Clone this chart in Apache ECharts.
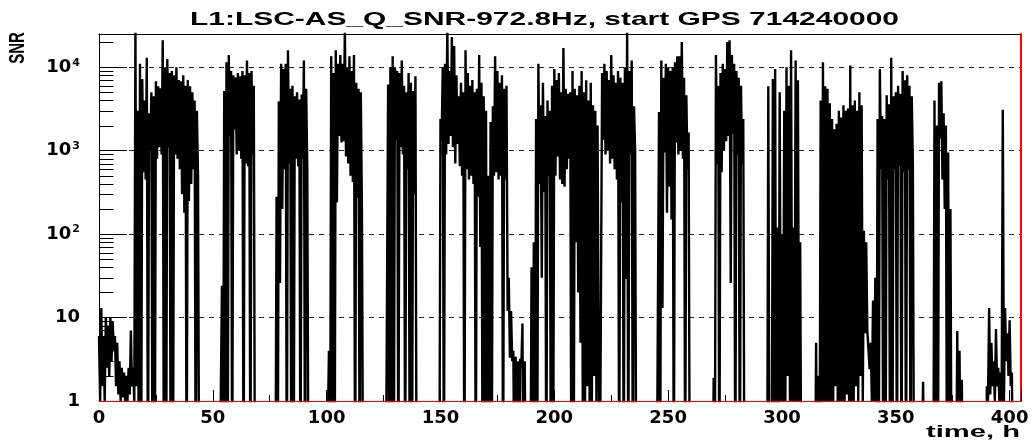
<!DOCTYPE html>
<html>
<head>
<meta charset="utf-8">
<script src="https://cdn.jsdelivr.net/npm/echarts@6/dist/echarts.min.js"></script>
<style>
html,body{margin:0;padding:0;background:#fff;}
#chart{width:1033px;height:440px;}
</style>
</head>
<body>
<div id="chart"></div>
<script>
// ---- texts ----
const titleText = 'L1:LSC-AS_Q_SNR-972.8Hz, start GPS 714240000';
const yName = 'SNR';
const xName = 'time, h';

// ---- axis ticks ----
const xTickLabels = [0, 50, 100, 150, 200, 250, 300, 350, 400];
const yTickLabels = [1, 10, 100, 1000, 10000];
const yMinorTicks = [2,3,4,5,6,7,8,9, 20,30,40,50,60,70,80,90,
  200,300,400,500,600,700,800,900, 2000,3000,4000,5000,6000,7000,8000,9000, 20000];

// ---- data: one entry per hour; high sample at h, low sample at h+0.5 (0 = no signal) ----
const snrHigh = [
  6,13,6,10,8,10,9,6,5,3,
  2.5,2.2,2,2.5,7,2.5,30000,3000,11000,7200,
  4000,13000,2800,5000,4500,6800,5900,5600,21000,10000,
  12500,8500,9000,8000,10000,7000,6800,8000,6000,7000,
  5900,5000,4000,3000,0,0,0,0,0,0,
  0,0,0,0,24,5200,11500,14000,9000,8000,
  7500,8500,7800,9000,8000,12000,8500,9000,6000,0,
  0,0,0,0,0,0,0,0,280,3900,
  11000,9500,11000,16000,5500,6000,4500,5000,4100,4700,
  12000,5500,0,0,0,0,0,0,0,0,
  0,4,13500,8500,16000,11000,14000,11000,30000,10000,
  13500,9000,14000,6500,5500,5000,0,0,0,0,
  0,0,0,0,0,0,0,6200,10000,13500,
  10000,9000,8500,12000,6000,5000,8500,6500,5200,7800,
  0,0,0,0,0,0,0,0,0,0,
  2400,10000,11000,30000,9000,23000,18000,8000,4500,6500,
  5000,16000,8500,6000,7000,5000,5500,14000,6500,4500,
  3000,500,2200,3400,13500,9000,6500,8000,5500,6000,
  30,12,4,3.4,3,3.2,8.5,3,0,0,
  40,80,2400,11000,3500,6500,2600,4000,3000,6000,
  9500,7000,8500,5000,17000,5500,4800,5000,9000,5500,
  4600,6000,9000,5000,7000,4000,6500,3500,3000,2000,
  0,8500,11000,9000,7000,14000,8000,6500,9000,7500,
  6500,10000,30000,9000,12000,3400,0,0,0,0,
  0,0,0,0,0,0,2900,12000,7500,11000,
  10000,9000,10000,11500,13500,13500,20000,7500,4600,1650,
  0,0,0,0,0,0,0,0,0,0,
  1.9,14000,6000,8500,11000,9500,20000,21000,14000,11000,
  9000,7500,6000,2400,0,0,0,0,0,0,
  0,0,0,0,5900,0,7200,9500,120,5000,
  100,3000,10000,6000,16000,120,12000,7000,80,0,
  0,0,0,0,0,5,2,4000,11500,5900,
  5500,3700,2400,1800,2100,3000,2500,3500,3000,3200,
  10500,3500,4000,3000,5000,3500,110,80,7.3,5,
  16,30,2400,9500,2600,2400,4600,3600,13000,4500,
  5000,6000,4800,9000,7000,8000,6000,4500,0,0,
  0,0,1.7,0,0,0,0,4000,2000,6500,
  6800,2800,2000,950,200,0,0,6.9,4,1.8,
  0,0,0,0,0,0,0,0,0,0,
  1.5,13,5,3,7.3,2.5,2.2,3100,13,6.5,
  9.3,2.2,0,0,0,0
];
const snrLow = [
  1,1.5,1,2.5,2,3,4,1.5,1.2,1,
  1.1,1,1,1.2,1.5,1,1.5,0,0,550,
  450,0,1000,0,0,800,1100,900,0,0,
  1100,0,0,900,800,600,300,180,0,250,
  400,600,0,500,0,0,0,0,0,0,
  0,0,0,0,0,0,0,1500,0,1800,
  900,1000,800,0,700,650,0,900,0,0,
  0,0,0,0,0,0,0,0,0,26,
  200,600,0,700,0,0,800,650,0,800,
  0,600,0,0,0,0,0,0,0,0,
  0,0,0,0,240,1500,1250,1300,850,700,
  500,420,0,270,0,180,0,0,0,0,
  0,0,0,0,0,0,0,0,0,0,
  1350,0,1100,900,0,600,0,0,300,0,
  0,0,0,0,0,0,0,0,0,0,
  1350,0,900,1200,1500,1100,700,1200,650,500,
  0,600,450,500,400,0,280,70,0,0,
  0,0,0,500,550,450,500,0,450,12,
  3.3,3,0,1,0,2.5,0,0,0,0,
  0,0,0,400,30,320,0,500,0,0,
  500,850,450,400,370,600,800,0,0,80,
  20,5,1,1,1.5,1,1,2,1,3,
  0,1350,900,1000,700,800,600,450,0,240,
  0,29,0,900,0,1000,0,0,0,0,
  0,0,0,0,0,0,0,13,950,180,
  370,150,0,1250,900,1000,800,0,600,0,
  0,0,0,0,0,0,0,0,0,0,
  0,700,0,550,1000,1300,1500,26,1600,0,
  900,0,700,0,0,0,0,0,0,0,
  0,0,0,0,0,0,0,0,0,1,
  1,1,2,1,1,1,1,1,0,0,
  0,0,0,0,0,0,0,0,1,1,
  1,1,1,1.5,1,1,1,1,1.2,1,
  1,1,1.5,1,2,1,6.5,7,2.4,1,
  1,0,0,600,0,0,450,0,0,600,
  0,650,0,550,0,600,0,700,0,0,
  0,0,0,0,0,0,0,0,0,1400,
  450,200,0,0,0,0,0,0,0,0,
  0,0,0,0,0,0,0,0,0,0,
  1,1.2,1.5,1,1.5,1,1,1,3,2,
  1.5,0,0,0,0,0
];

const X_MAX = 405;
const Y_MIN = 1, Y_MAX = 25000;
const NO_SIGNAL = 0.05; // drawn below the axis minimum (clipped)

const points = [];
for (let h = 0; h < snrHigh.length; h++) {
  points.push([h, snrHigh[h] > 0 ? snrHigh[h] : NO_SIGNAL]);
  points.push([h + 0.5, snrLow[h] > 0 ? snrLow[h] : NO_SIGNAL]);
}

const LABEL_FONT = '"DejaVu Sans", sans-serif';

function measure(text, font) {
  const c = document.createElement('canvas').getContext('2d');
  c.font = font;
  return c.measureText(text).width;
}
const titleFont = 'bold 18.5px "Liberation Sans"';
const titleScale = 709 / measure(titleText, titleFont);
const xNameFont = 'bold 16px "Liberation Sans"';
const xNameScale = 94 / measure(xName, xNameFont);

const chart = echarts.init(document.getElementById('chart'), null, {renderer: 'canvas'});

function yFmt(v) {
  const e = Math.round(Math.log10(v));
  if (Math.abs(Math.log10(v) - e) > 1e-6) return '';
  if (yTickLabels.indexOf(Math.pow(10, e)) < 0) return '';
  if (e === 0) return '{n|1}';
  if (e === 1) return '{n|10}';
  return '{n|10}{s|' + e + '}';
}

const option = {
  backgroundColor: '#fff',
  animation: false,
  grid: {left: 99, right: 12, top: 34, bottom: 39, containLabel: false, outerBoundsMode: 'none'},
  graphic: [
    {type: 'text', x: 544.5, y: 20, scaleX: titleScale, silent: true,
     style: {text: titleText, x: 0, y: 0, fill: '#000', font: titleFont,
       align: 'center', verticalAlign: 'middle', textAlign: 'center', textVerticalAlign: 'middle'}},
    {type: 'text', x: 18, y: 48, rotation: Math.PI / 2, scaleY: 1.5, silent: true,
     style: {text: yName, x: 0, y: 0, fill: '#000', font: 'bold 15px "Liberation Sans"',
       align: 'center', verticalAlign: 'middle', textAlign: 'center', textVerticalAlign: 'middle'}},
    {type: 'text', x: 1020, y: 433, scaleX: xNameScale, silent: true,
     style: {text: xName, x: 0, y: 0, fill: '#000', font: xNameFont,
       align: 'right', verticalAlign: 'middle', textAlign: 'right', textVerticalAlign: 'middle'}}
  ],
  xAxis: [
    {type: 'value', min: 0, max: X_MAX, interval: 50, position: 'bottom', z: 10,
     axisLine: {show: true, onZero: false, lineStyle: {color: '#ff0000', width: 1}},
     axisTick: {show: true, inside: true, length: 11, lineStyle: {color: '#000'}},
     minorTick: {show: true, splitNumber: 2, length: 6, lineStyle: {color: '#000'}},
     splitLine: {show: false},
     axisLabel: {
       formatter: v => (xTickLabels.indexOf(v) >= 0 ? String(v) : ''),
       fontFamily: LABEL_FONT, fontWeight: 'bold', fontSize: 18, color: '#000', margin: 8,
       hideOverlap: false
     }
    },
    {type: 'value', min: 0, max: X_MAX, position: 'top',
     axisLine: {show: true, onZero: false, lineStyle: {color: '#000', width: 1}},
     axisTick: {show: false}, axisLabel: {show: false}, splitLine: {show: false}}
  ],
  yAxis: [
    {type: 'log', logBase: 10, min: Y_MIN, max: Y_MAX, position: 'left',
     axisLine: {show: true, onZero: false, lineStyle: {color: '#000', width: 1}},
     axisTick: {show: true, inside: true, length: 28, lineStyle: {color: '#000'}},
     minorTick: {show: false},
     splitLine: {show: true, showMinLine: false, showMaxLine: false,
       lineStyle: {color: '#222', width: 1, type: [5, 5]}},
     axisLabel: {
       formatter: yFmt, margin: 19, color: '#000',
       rich: {
         n: {fontFamily: LABEL_FONT, fontWeight: 'bold', fontSize: 18, color: '#000'},
         s: {fontFamily: LABEL_FONT, fontWeight: 'bold', fontSize: 11, color: '#000', padding: [0, 0, 9, 1]}
       }
     }
    },
    {type: 'log', logBase: 10, min: Y_MIN, max: Y_MAX, position: 'right', z: 10,
     axisLine: {show: true, onZero: false, lineStyle: {color: '#ff0000', width: 2}},
     axisTick: {show: false}, axisLabel: {show: false}, splitLine: {show: false}, minorTick: {show: false}}
  ],
  series: [
    {type: 'custom', name: 'minor ticks', xAxisIndex: 0, yAxisIndex: 0, silent: true, z: 1,
     data: yMinorTicks.map(v => [0, v]),
     encode: {x: 0, y: 1},
     renderItem: function (params, api) {
       const p = api.coord([0, api.value(1)]);
       const y = Math.round(p[1]) + 0.5;
       const x = Math.round(p[0]) + 0.5;
       return {type: 'line', shape: {x1: x, y1: y, x2: x + 14, y2: y},
               style: {stroke: '#000', lineWidth: 1}};
     }
    },
    {type: 'line', name: 'SNR', data: points, xAxisIndex: 0, yAxisIndex: 0,
     symbol: 'none', showSymbol: false, clip: true, silent: true,
     lineStyle: {color: '#000', width: 2.4, join: 'bevel'}, z: 3}
  ]
};
chart.setOption(option);
</script>
</body>
</html>
